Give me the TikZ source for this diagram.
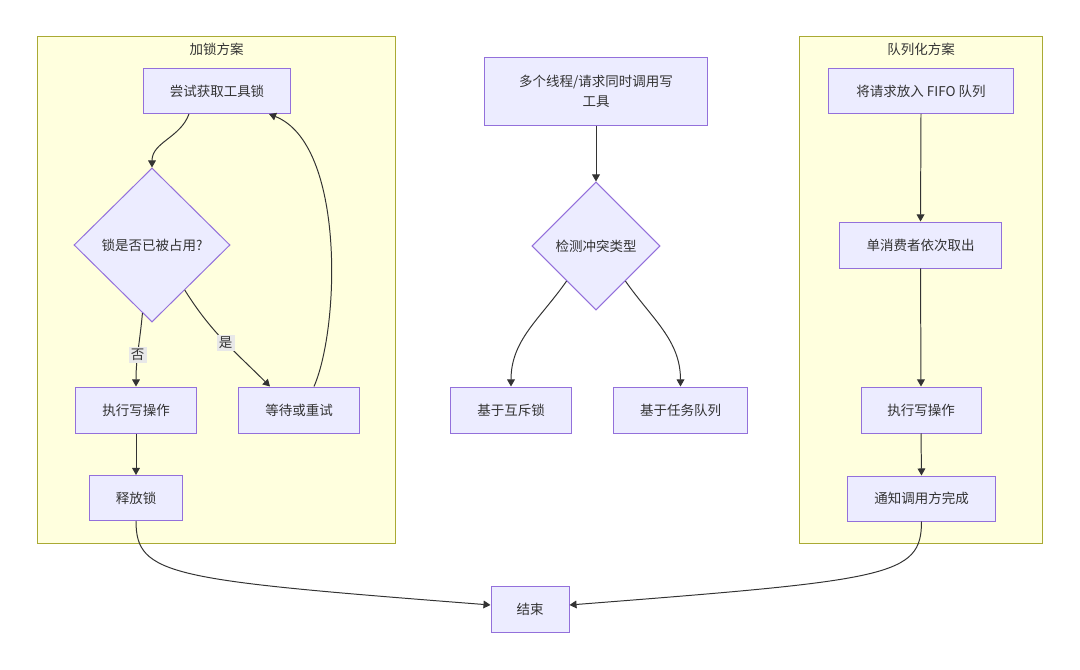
\documentclass[tikz,border=0pt]{standalone}
\usepackage{fontspec}
\newfontfamily\cjk{Noto Sans CJK SC}
\usetikzlibrary{arrows.meta,calc,positioning,shapes}

\definecolor{nodefill}{HTML}{ECECFF}
\definecolor{nodeline}{HTML}{9370DB}
\definecolor{clusterfill}{HTML}{FFFFDE}
\definecolor{clusterline}{HTML}{AAAA33}
\definecolor{textgray}{HTML}{333333}
\definecolor{labelgray}{HTML}{E8E8E8}

\begin{document}
\begin{tikzpicture}[
	  x=0.025cm,
	  y=-0.025cm,
	  every node/.style={font=\cjk\fontsize{9.6}{14.2}\selectfont, text=textgray},
	  >={Triangle[length=5pt,width=5.5pt]},
	  box/.style={
		  draw=nodeline,
		  fill=nodefill,
		  line width=0.7pt,
		  inner sep=0pt,
		  minimum height=1.15cm
	  },
	  decision/.style={
		  diamond,
		  draw=nodeline,
		  fill=nodefill,
		  line width=0.7pt,
		  inner sep=0pt,
		  aspect=1
	  },
	  cluster/.style={
		  draw=clusterline,
		  fill=clusterfill,
		  line width=0.7pt,
		  minimum height=12.65cm
	  },
	  edgelabel/.style={
		  fill=labelgray,
		  inner sep=1.5pt
	  },
	  flow/.style={
		  ->,
		  draw=textgray,
		  line width=0.7pt
	  }
  ]

  \useasboundingbox[fill=white] (0,0) rectangle (1080,670);

  % Clusters
  \node [
	  cluster,
	  minimum width=8.925cm,
  ] (lockgroup) at (216.5,290) {};
  \node [below=0.05cm of lockgroup.north] (locktitle) {加锁方案};
  \node [
	  cluster,
	  minimum width=6.05cm,
  ] (queuegroup) at (921,290) {};
  \node [below=0.05cm of queuegroup.north] (queuetitle) {队列化方案};

  % Boxes
  \node [
	  box,
	  minimum width=3.675cm,
	  minimum height=1.125cm,
  ] (trylock) at (217,91) {尝试获取工具锁};
  \node [
	  decision,
	  minimum width=3.9cm,
	  minimum height=3.85cm,
  ] (occupied) at (152,245) {锁是否已被占用?};
  \node [
	  box,
	  minimum width=3cm,
  ] (lockwrite) at (136,410) {执行写操作};
  \node [
	  box,
	  minimum width=3cm,
  ] (retry) at (299,410) {等待或重试};
  \node [
	  box,
	  minimum width=2.325cm,
	  minimum height=1.125cm,
  ] (release) at (136,498) {释放锁};

  \node [
	  box,
	  minimum width=5.55cm,
	  minimum height=1.675cm,
	  align=center,
  ] (callers) at (596,91.5) {多个线程/请求同时调用写\\工具};
  \node [
	  decision,
	  minimum width=3.2cm,
	  minimum height=3.2cm,
  ] (conflict) at (596,246) {检测冲突类型};
  \node [
	  box,
	  minimum width=3cm,
  ] (mutex) at (511,410) {基于互斥锁};
  \node [
	  box,
	  minimum width=3.325cm,
  ] (taskqueue) at (680.5,410) {基于任务队列};

  \node [
	  box,
	  minimum width=4.6cm,
	  minimum height=1.125cm,
  ] (enqueue) at (921,91) {将请求放入 FIFO 队列};
  \node [
	  box,
	  minimum width=4.025cm,
  ] (consumer) at (920.5,245) {单消费者依次取出};
  \node [
	  box,
	  minimum width=3cm,
  ] (queuewrite) at (921,410) {执行写操作};
  \node [
	  box,
	  minimum width=3.675cm,
	  minimum height=1.125cm,
  ] (notify) at (921.5,498.5) {通知调用方完成};

  \node [
	  box,
	  minimum width=1.95cm,
  ] (finish) at (530,609) {结束};

  % Connecting Arrows
  \draw[flow] ([xshift=-0.7cm]trylock.south) to[out=250,in=90] (occupied.north);
  \draw[flow] (occupied.262) to[out=265,in=90] node [edgelabel,pos=0.58] (nolabel) {否} (lockwrite.north);
  \draw[flow] (occupied.306) to[out=-58,in=135] node [edgelabel,pos=0.52] (yeslabel) {是} ([xshift=-0.725cm]retry.north);
  \draw[flow] ([xshift=0.375cm]retry.north) .. controls +(26,-60) and +(76,30) .. ([xshift=1.3cm]trylock.south);
  \draw[flow] (lockwrite.south) -- (release.north);
  \draw[flow] (release.south) .. controls +(0,55) and +(-320,-25) .. ([yshift=0.1cm]finish.west);

  \draw[flow] (callers.south) -- (conflict.north);
  \draw[flow] (conflict.230) to[out=235,in=90] (mutex.north);
  \draw[flow] (conflict.310) to[out=-55,in=90] (taskqueue.north);

  \draw[flow] (enqueue.south) -- (consumer.north);
  \draw[flow] (consumer.south) -- (queuewrite.north);
  \draw[flow] (queuewrite.south) -- (notify.north);
  \draw[flow] (notify.south) .. controls +(0,55) and +(320,-25) .. ([yshift=0.1cm]finish.east);

\end{tikzpicture}
\end{document}
